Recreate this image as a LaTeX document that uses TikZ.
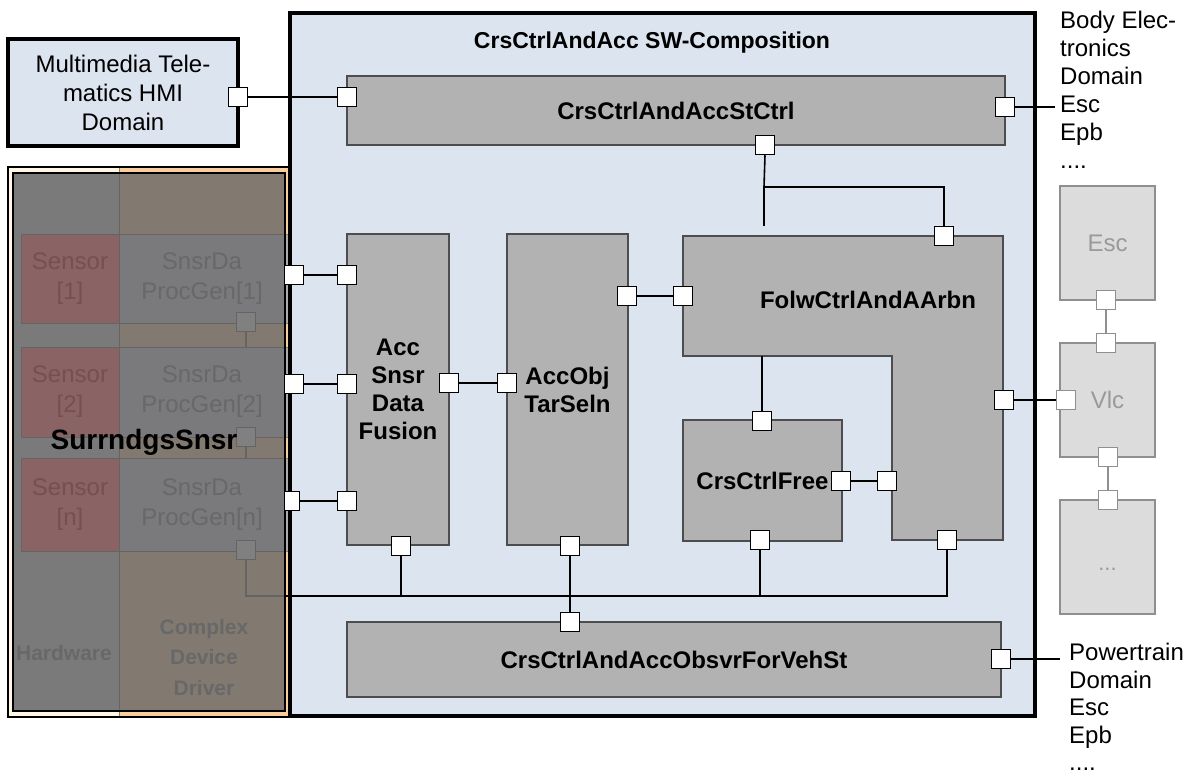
\documentclass[tikz,border=0pt]{standalone}
\usepackage{fontspec}
\setmainfont{Liberation Sans}
\definecolor{compblue}{HTML}{DCE4EF}
\definecolor{compgray}{HTML}{B2B2B2}
\definecolor{compline}{HTML}{4D4D4D}
\definecolor{sidegray}{HTML}{DCDCDC}
\definecolor{sidegrayline}{HTML}{8F8F8F}
\definecolor{sidetext}{HTML}{9A9A9A}
\definecolor{hwcream}{HTML}{FFF6E4}
\definecolor{cddorange}{HTML}{F8CE9A}
\definecolor{dimhw}{HTML}{7A7A7A}
\definecolor{dimcdd}{HTML}{827A70}
\definecolor{dimsensor}{HTML}{8A6464}
\definecolor{dimsnsr}{HTML}{7A7A7C}
\definecolor{dimline}{HTML}{646464}
\definecolor{dimport}{HTML}{808080}
\definecolor{dimtext}{HTML}{686868}
\definecolor{dimredtext}{HTML}{765050}
\definecolor{litesnsr}{HTML}{ABABAB}
\newcommand\fsReg{\fontsize{24}{29}\selectfont}
\newcommand\fsLbl{\fontsize{24}{28}\selectfont\bfseries}
\newcommand\fsDim{\fontsize{24}{30}\selectfont}
\begin{document}
\begin{tikzpicture}[x=1pt,y=-1pt,
  comp/.style={draw=compline, line width=1.2pt, fill=compgray, inner sep=0pt, align=center, font=\fsLbl},
  port/.style={draw=black, line width=1.5pt, fill=white, rectangle, minimum size=19pt, inner sep=0pt},
  gport/.style={port, draw=sidegrayline},
  dport/.style={port, draw=dimline, fill=dimport, line width=1.2pt},
  wire/.style={draw=black, line width=1.6pt},
  gwire/.style={draw=sidegrayline, line width=1.6pt},
  dwire/.style={draw=dimline, line width=1.2pt},
  sidebox/.style={draw=sidegrayline, line width=1.5pt, fill=sidegray, inner sep=0pt, minimum width=95pt, minimum height=114pt, text=sidetext, font=\fsReg},
  sensbox/.style={draw=dimline, line width=1pt, fill=dimsensor, inner sep=0pt, minimum width=98pt, text=dimredtext, font=\fsDim, align=center},
  sdbox/.style={draw=dimline, line width=1pt, fill=dimsnsr, inner sep=0pt, minimum width=166pt, text=dimtext, font=\fsDim, align=center},
  plain/.style={inner sep=0pt, align=left, font=\fsReg}
]
\useasboundingbox (0,0) rectangle (1195,776);
\fill[white] (0,0) rectangle (1195,776);

% composition background
\node[fill=compblue, minimum width=745pt, minimum height=703pt, inner sep=0pt] (compo) at (662.5,364.5) {};
\node[font=\fontsize{23}{27}\selectfont\bfseries] (title) at (652,43) {CrsCtrlAndAcc SW-Composition};

% surroundings sensor area
\fill[hwcream] (8,167) rectangle (119,717);
\fill[cddorange] (119,167) rectangle (290,717);
\foreach \t/\b in {234/323,347/437,458/551}
  \filldraw[fill=litesnsr, draw=gray, line width=1pt] (119,\t) rectangle (290,\b);
\fill[dimhw] (13,173) rectangle (119,711);
\fill[dimcdd] (119,173) rectangle (285,711);
\node[sensbox, minimum height=89pt] (sen1) at (70,278.5) {Sensor\\{}[1]};
\node[sensbox, minimum height=90pt] (sen2) at (70,392) {Sensor\\{}[2]};
\node[sensbox, minimum height=93pt] (senn) at (70,504.5) {Sensor\\{}[n]};
\node[sdbox, minimum height=89pt] (sd1) at (202,278.5) {SnsrDa\\ProcGen[1]};
\node[sdbox, minimum height=90pt] (sd2) at (202,392) {SnsrDa\\ProcGen[2]};
\node[sdbox, minimum height=93pt] (sdn) at (202,504.5) {SnsrDa\\ProcGen[n]};
\draw[dimline, line width=1pt] (119,173) -- (119,711);
\draw[gray, line width=1pt] (119,167) -- (119,173) (119,711) -- (119,717);
\node[dport] (sd1b) at (246,322) {};
\node[dport] (sd2b) at (246,437) {};
\node[dport] (sdnb) at (246,550) {};
\coordinate (busW) at (246,596);
\coordinate (busM) at (285,596);
\draw[dwire] (sd1b.south) -- (sd1b |- sd2.north);
\draw[dwire] (sd2b.south) -- (sd2b |- sdn.north);
\draw[dwire] (sdnb.south) -- (busW) -- (busM);
\node[font=\fontsize{21}{30}\selectfont\bfseries, text=dimtext] (hwlbl) at (64,653) {Hardware};
\node[font=\fontsize{21}{30.5}\selectfont\bfseries, text=dimtext, align=center] (cddlbl) at (204,657) {Complex\\Device\\Driver};
\draw[line width=1.5pt] (13,173) rectangle (285,711);
\draw[line width=1.2pt] (8,167) rectangle (290,717);
\node[font=\fontsize{28}{32}\selectfont\bfseries] (surr) at (144,442) {SurrndgsSnsr};

% composition border
\draw[line width=3.5pt] (compo.north west) rectangle (compo.south east);

% multimedia domain
\node[draw, line width=3.5pt, fill=compblue, minimum width=230pt, minimum height=107pt, inner sep=0pt, align=center, font=\fsReg] (mm) at (123,92.5) {Multimedia Tele-\\matics HMI\\Domain};

% components
\node[comp, minimum width=658pt, minimum height=69pt] (st) at (676,110.5) {CrsCtrlAndAccStCtrl};
\node[comp, minimum width=102pt, minimum height=311pt] (acc) at (398,389.5) {Acc\\Snsr\\Data\\Fusion};
\node[comp, minimum width=121pt, minimum height=311pt] (aobj) at (567.5,389.5) {AccObj\\TarSeln};
\filldraw[fill=compgray, draw=compline, line width=1.2pt] (683,236) -- (1003,236) -- (1003,540) -- (892,540) -- (892,356) -- (683,356) -- cycle;
\node[font=\fsLbl] (folw) at (868,300) {FolwCtrlAndAArbn};
\node[comp, minimum width=159pt, minimum height=121pt] (free) at (762.5,480.5) {CrsCtrlFree};
\node[comp, minimum width=654pt, minimum height=75pt] (obs) at (674,659.5) {CrsCtrlAndAccObsvrForVehSt};

% side components
\node[sidebox] (esc) at (1107.5,243) {Esc};
\node[sidebox] (vlc) at (1107.5,400) {Vlc};
\node[sidebox] (more) at (1107.5,557) {};
\node[font=\fontsize{22}{26}\selectfont, text=sidetext] (morelbl) at (1107.5,569) {...};

% texts on the right
\node[plain, anchor=north west, font=\fontsize{24}{28}\selectfont] (body) at (1060,11) {Body Elec-\\tronics\\Domain\\Esc\\Epb\\....};
\node[plain, anchor=north west, font=\fontsize{24}{27.5}\selectfont] (power) at (1069,643) {Powertrain\\Domain\\Esc\\Epb\\....};

% ports
\node[port] (mmR) at (238,97) {};
\node[port] (stL) at (347,97) {};
\node[port] (stR) at (1005,107) {};
\node[port] (stB) at (765,145) {};
\node[port] (accL1) at (347,275) {};
\node[port] (accL2) at (347,384) {};
\node[port] (accL3) at (347,501) {};
\node[port] (accR) at (449,383) {};
\node[port] (accB) at (401,546) {};
\node[port] (aoL) at (507,383) {};
\node[port] (aoR) at (627,296) {};
\node[port] (aoB) at (570,546) {};
\node[port] (folL) at (683,296) {};
\node[port] (folT) at (944,236) {};
\node[port] (folR) at (1004,400) {};
\node[port] (folI) at (887,481) {};
\node[port] (folB) at (947,540) {};
\node[port] (freeT) at (762,421) {};
\node[port] (freeR) at (841,481) {};
\node[port] (freeB) at (760,540) {};
\node[port] (obT) at (570,622) {};
\node[port] (obR) at (1001,659) {};
\node[port] (sd1R) at (294,275) {};
\node[port] (sd2R) at (294,384) {};
\node[port, minimum width=15pt] (sdnR) at (292,501) {};
\node[gport] (escB) at (1106,300) {};
\node[gport] (vlcT) at (1106,343) {};
\node[gport] (vlcL) at (1066,400) {};
\node[gport] (vlcB) at (1108,457) {};
\node[gport] (moreT) at (1108,500) {};

% free ends
\coordinate (bodyEnd) at (1055,107);
\coordinate (powerEnd) at (1060,659);
\coordinate (junc) at (764,187);
\coordinate (busE) at (947,596);

% wires
\draw[wire] (mmR.east) -- (stL.west);
\draw[wire] (stR.east) -- (bodyEnd);
\draw[wire] (stB.south) -- (junc) -- (junc |- folT.north);
\draw[wire] (junc) -- (junc -| folT) -- (folT.north);
\draw[wire] (sd1R.east) -- (accL1.west);
\draw[wire] (sd2R.east) -- (accL2.west);
\draw[wire] (sdnR.east) -- (accL3.west);
\draw[wire] (accR.east) -- (aoL.west);
\draw[wire] (aoR.east) -- (folL.west);
\draw[wire] (freeT.north |- 0,356) -- (freeT.north);
\draw[wire] (freeR.east) -- (folI.west);
\draw[wire] (folR.east) -- (vlcL.west);
\draw[wire] (busM) -- (busE) -- (folB.south);
\draw[wire] (accB.south) -- (accB |- busE);
\draw[wire] (freeB.south) -- (freeB |- busE);
\draw[wire] (aoB.south) -- (obT.north);
\draw[wire] (obR.east) -- (powerEnd);
\draw[gwire] (escB.south) -- (vlcT.north);
\draw[gwire] (vlcB.south) -- (moreT.north);
\end{tikzpicture}
\end{document}
